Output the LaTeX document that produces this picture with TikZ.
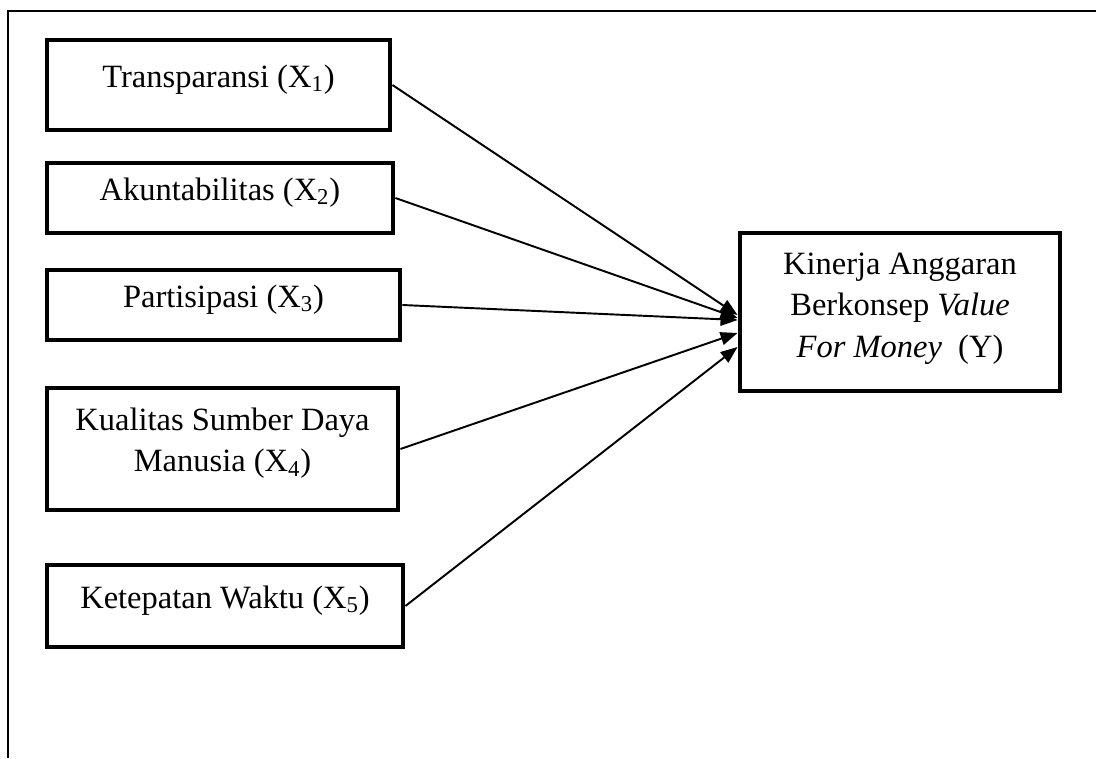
\documentclass[tikz,border=0pt]{standalone}
\usepackage{fontspec}
\setmainfont{Liberation Serif}
\usetikzlibrary{arrows.meta}

\begin{document}
\begin{tikzpicture}[
  x=0.02cm,y=-0.02cm,
  font=\fontsize{18.5}{23.5}\selectfont,
  var/.style={draw,line width=2.8pt,align=center,inner sep=2pt,text depth=0.36cm},
  ar/.style={line width=1.1pt,-{Triangle[length=3.4mm,width=2.6mm]}}]
\useasboundingbox (0,0) rectangle (1096,758);
% outer frame (top and left only)
\draw[line width=1.1pt] (1096,11) -- (8,11) -- (8,758);
\node[var,minimum width=6.86cm,minimum height=1.80cm] (x1) at (218.5,85)
  {Transparansi (X\textsubscript{1})};
\node[var,minimum width=6.92cm,minimum height=1.40cm] (x2) at (220,198)
  {Akuntabilitas (X\textsubscript{2})};
\node[var,minimum width=7.06cm,minimum height=1.40cm] (x3) at (223.5,305)
  {Partisipasi (X\textsubscript{3})};
\node[var,minimum width=7.02cm,minimum height=2.44cm] (x4) at (222.5,449)
  {Kualitas Sumber Daya\\Manusia (X\textsubscript{4})};
\node[var,minimum width=7.12cm,minimum height=1.64cm] (x5) at (225,606)
  {Ketepatan Waktu (X\textsubscript{5})};
\node[var,minimum width=6.40cm,minimum height=3.16cm,text depth=0.28cm] (y) at (900,312)
  {Kinerja Anggaran\\Berkonsep \textit{Value}\\\textit{For Money}\ \ (Y)};
% arrows into Y
\draw[ar] (x1.east) -- ([yshift=-0.06cm]y.west);
\draw[ar] (x2.east) -- ([yshift=-0.12cm]y.west);
\draw[ar] (x3.east) -- ([yshift=-0.16cm]y.west);
\draw[ar] (x4.east) -- ([yshift=-0.42cm]y.west);
\draw[ar] (x5.east) -- ([yshift=-0.70cm]y.west);
\end{tikzpicture}
\end{document}
